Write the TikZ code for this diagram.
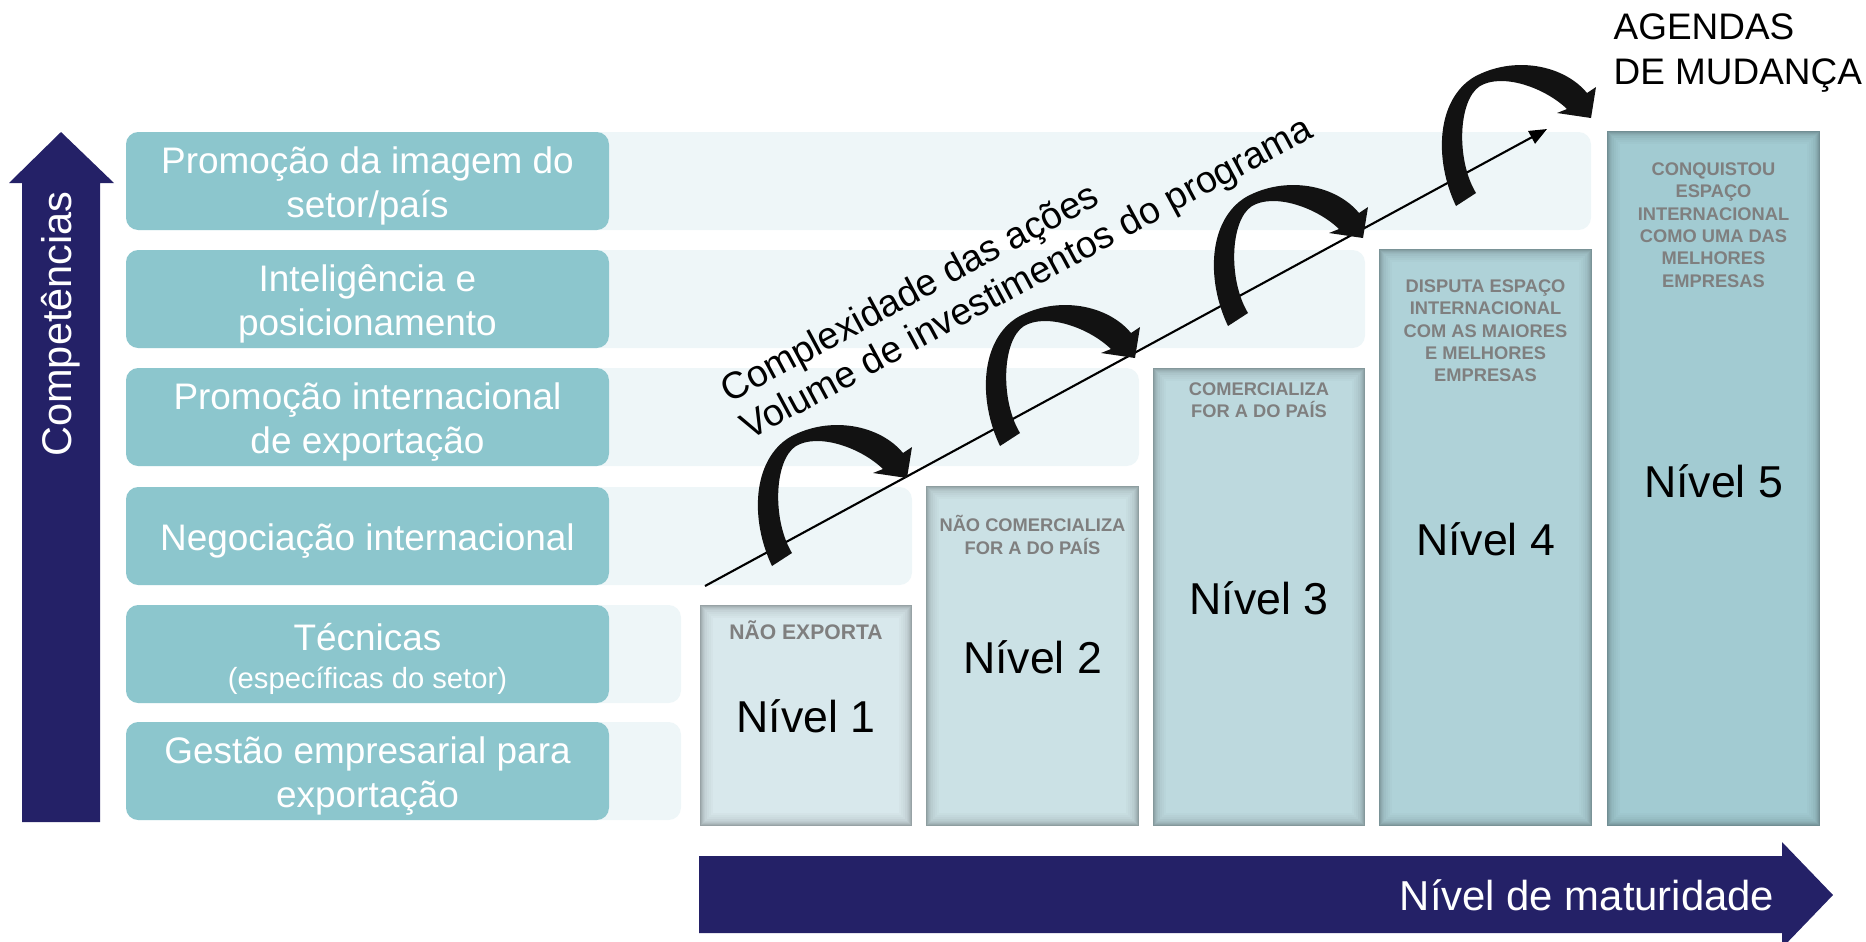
\documentclass[tikz,border=0pt]{standalone}
\usepackage{fontspec}
\setmainfont{Liberation Sans}
\usetikzlibrary{arrows.meta}
\definecolor{navy}{HTML}{242167}
\definecolor{compbox}{HTML}{8CC6CD}
\definecolor{compbg}{HTML}{EEF6F8}
\definecolor{lvA}{HTML}{D8E8EC}
\definecolor{lvB}{HTML}{CBE1E5}
\definecolor{lvC}{HTML}{BDD9DE}
\definecolor{lvD}{HTML}{AFD2D8}
\definecolor{lvE}{HTML}{A2CBD2}
\definecolor{desctext}{HTML}{7F7F7F}
\tikzset{
  comp/.style={text=white, font=\fontsize{10.5}{12.6}\selectfont, align=center, inner sep=0pt},
  nivel/.style={font=\fontsize{12.7}{15}\selectfont, anchor=base, inner sep=0pt},
  desc/.style={text=desctext, font=\fontsize{5.2}{6.35}\selectfont\bfseries, align=center, inner sep=0pt},
}
\begin{document}
\begin{tikzpicture}[x=0.01cm, y=-0.01cm]
    \useasboundingbox (0,0) rectangle (1866,941);
    \clip (0,0) rectangle (1866,941);
    \foreach \y/\xe/\txt [count=\i] in {132/1591/{Promoção da imagem do\\setor/país},
        250/1365/{Inteligência e\\posicionamento},
        368/1139/{Promoção internacional\\de exportação},
        487/912/{Negociação internacional},
        605/681/{Técnicas\\[-2pt]{\fontsize{8.3}{10}\selectfont (específicas do setor)}},
        722/681/{Gestão empresarial para\\exportação}} {
      \fill[compbg, rounded corners=3.5pt] (126,\y) rectangle (\xe,\y+98);
      \fill[compbox, rounded corners=3.5pt] (126,\y) rectangle (609,\y+98);
      \node[comp] (comp\i) at (367.5,\y+54) {\txt};
    }
    \foreach \xa/\xb/\yt/\col/\by/\dy/\dtxt [count=\n] in {
        700/912/605/lvA/732/630/{\fontsize{6}{7}\selectfont NÃO EXPORTA},
        926/1139/486/lvB/673/535/{NÃO COMERCIALIZA\\FOR A DO PAÍS},
        1153/1365/368/lvC/614/400/{COMERCIALIZA\\FOR A DO PAÍS},
        1379/1592/249/lvD/555/331/{DISPUTA ESPAÇO\\INTERNACIONAL\\COM AS MAIORES\\E MELHORES\\EMPRESAS},
        1607/1820/131/lvE/497/225/{CONQUISTOU\\ESPAÇO\\INTERNACIONAL\\COMO UMA DAS\\MELHORES\\EMPRESAS}} {
      \fill[\col!70!black] (\xa,\yt) rectangle (\xb,826);
      \foreach \ins/\pc in {1/76,2/81,3/85,4/88,5/91,7/94,9/96,11/98,13/100}
        \fill[\col!\pc!black] (\xa+\ins,\yt+\ins) rectangle (\xb-\ins,826-\ins);
      \node[nivel] (niv\n) at ({(\xa+\xb)/2},\by) {Nível \n};
      \node[desc] (desc\n) at ({(\xa+\xb)/2},\dy) {\dtxt};
    }
    \coordinate (dstart) at (705,586);
    \coordinate (dend) at (1547,129);
    \draw[line width=0.6pt, -{Triangle[length=5pt,width=4pt]}] (dstart) -- (dend);
    \node[rotate=28.3, anchor=west, align=left, inner sep=0pt, font=\fontsize{10.7}{12}\selectfont] (eixo) at (734,414) {Complexidade das ações\\Volume de investimentos do programa};
    \foreach \k in {0,...,3}
      \fill[black!93, shift={(228*\k,-120*\k)}] (772,566) .. controls (750,520) and (752,460) .. (790,437) .. controls (830,415) and (880,425) .. (903,453) -- (912,447) -- (907,478) -- (873,473) -- (883,469) .. controls (860,447) and (818,433) .. (796,446) .. controls (774,460) and (772,520) .. (792,553) -- cycle;
    \fill[navy] (22,822) -- (22,183) -- (9,183) -- (61,132) -- (114,183) -- (100,183) -- (100,822) -- cycle;
    \node[rotate=90, text=white, font=\fontsize{11.8}{14}\selectfont] (compet) at (61,324) {Competências};
    \fill[navy] (699,856) -- (1782,856) -- (1782,842) -- (1833,895) -- (1782,948) -- (1782,933) -- (699,933) -- cycle;
    \node[anchor=base east, text=white, inner sep=0pt, font=\fontsize{11.9}{14}\selectfont] (matur) at (1775,910) {Nível de maturidade};
    \node[anchor=north west, align=left, inner sep=0pt, font=\fontsize{10.5}{12.8}\selectfont] (agendas) at (1613,13) {AGENDAS\\DE MUDANÇA};
\end{tikzpicture}
\end{document}
